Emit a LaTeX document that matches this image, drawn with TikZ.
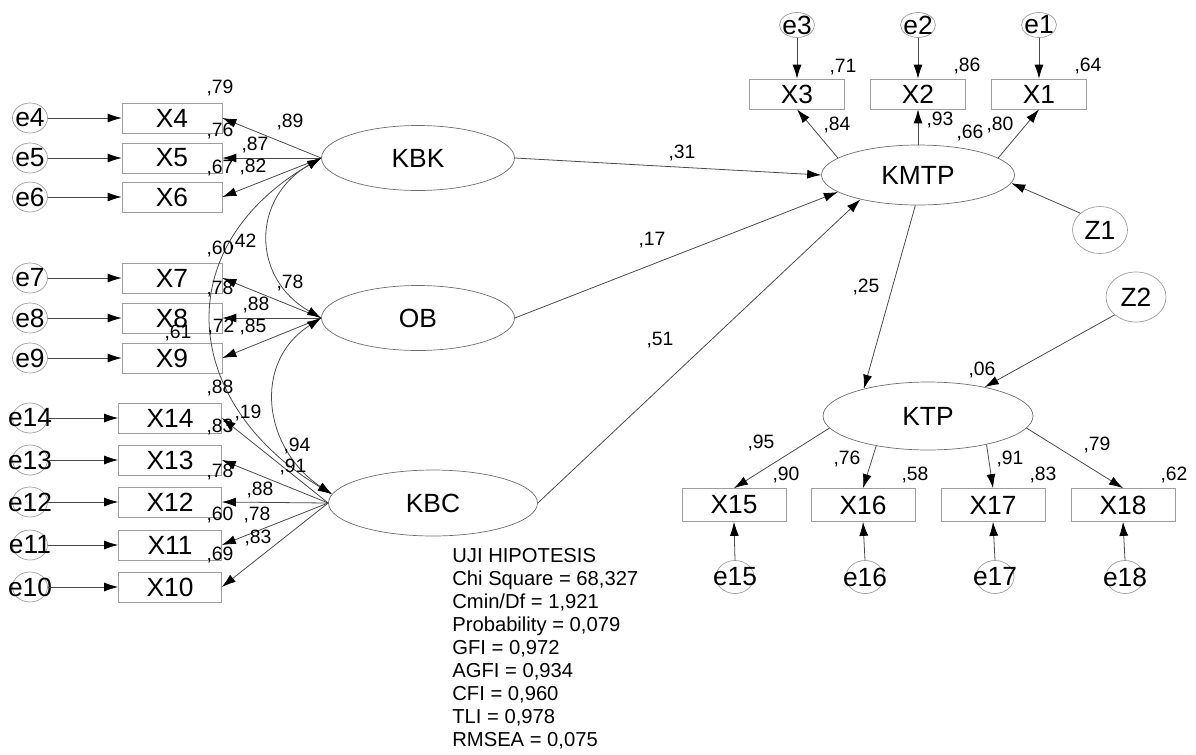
\documentclass[tikz,border=0pt]{standalone}
\usepackage{fontspec}
\setmainfont{Liberation Sans}
\usetikzlibrary{arrows.meta,shapes.geometric}
\definecolor{LineGray}{HTML}{4A4A4A}
\definecolor{BoxGray}{HTML}{9E9E9E}

\begin{document}
\begin{tikzpicture}[
  x=0.02cm,y=-0.02cm,
  obs/.style={draw=BoxGray,minimum width=2cm,minimum height=0.6cm,inner sep=0pt,font=\fontsize{15}{17}\selectfont},
  lat/.style={ellipse,draw=LineGray!80,minimum width=3.86cm,minimum height=1.3cm,inner sep=0pt,font=\fontsize{15}{17}\selectfont},
  err/.style={ellipse,draw=BoxGray,minimum width=0.7cm,minimum height=0.6cm,inner sep=0pt},
  errlab/.style={font=\fontsize{15}{17}\selectfont,inner sep=0pt},
  est/.style={font=\fontsize{11}{13}\selectfont,inner sep=0pt},
  arr/.style={-{Latex[length=2.8mm,width=1.8mm,black]},draw=LineGray,line width=0.45pt},
  cov/.style={{Latex[length=2.8mm,width=1.8mm,black]}-{Latex[length=2.8mm,width=1.8mm,black]},draw=LineGray,line width=0.45pt}
]
\useasboundingbox (0,0) rectangle (1196,754);

% latent variables
\node[lat] (kbk) at (418,158) {KBK};
\node[lat] (ob) at (418,318) {OB};
\node[lat,minimum width=4.18cm,minimum height=1.32cm] (kbc) at (433,503) {KBC};
\node[lat,minimum height=1.2cm] (kmtp) at (918,175) {KMTP};
\node[lat,minimum width=4.2cm,minimum height=1.36cm] (ktp) at (928,416) {KTP};
\node[err,minimum width=1.1cm,minimum height=0.94cm,font=\fontsize{15}{17}\selectfont] (z1) at (1100,230) {Z1};
\node[err,minimum width=1.2cm,minimum height=1cm,font=\fontsize{15}{17}\selectfont] (z2) at (1136,297) {Z2};

% indicators, left
\node[obs] (x4) at (172,118) {X4};
\node[obs] (x5) at (172,158) {X5};
\node[obs] (x6) at (172,197) {X6};
\node[obs] (x7) at (172,278) {X7};
\node[obs] (x8) at (172,318) {X8};
\node[obs] (x9) at (172,358) {X9};
\node[obs,minimum width=2.06cm] (x14) at (170,418) {X14};
\node[obs,minimum width=2.06cm] (x13) at (170,460) {X13};
\node[obs,minimum width=2.06cm] (x12) at (170,502) {X12};
\node[obs,minimum width=2.06cm] (x11) at (170,545) {X11};
\node[obs,minimum width=2.06cm] (x10) at (170,587) {X10};
\node[err,label={[errlab]center:e4}] (e4) at (30,118) {};
\node[err,label={[errlab]center:e5}] (e5) at (30,158) {};
\node[err,label={[errlab]center:e6}] (e6) at (30,197) {};
\node[err,label={[errlab]center:e7}] (e7) at (30,278) {};
\node[err,label={[errlab]center:e8}] (e8) at (30,318) {};
\node[err,label={[errlab]center:e9}] (e9) at (30,358) {};
\node[err,label={[errlab]center:e14}] (e14) at (30,418) {};
\node[err,label={[errlab]center:e13}] (e13) at (30,460) {};
\node[err,label={[errlab]center:e12}] (e12) at (30,502) {};
\node[err,label={[errlab]center:e11}] (e11) at (30,545) {};
\node[err,label={[errlab]center:e10}] (e10) at (30,587) {};

% indicators, top and bottom right
\node[obs,minimum width=1.9cm] (x3) at (797,94) {X3};
\node[obs,minimum width=1.9cm] (x2) at (918,94) {X2};
\node[obs,minimum width=1.9cm] (x1) at (1039,94) {X1};
\node[err,minimum height=0.5cm,label={[errlab]center:e3}] (e3) at (797,25) {};
\node[err,minimum height=0.5cm,label={[errlab]center:e2}] (e2) at (918,25) {};
\node[err,minimum height=0.5cm,label={[errlab]center:e1}] (e1) at (1039,25) {};
\node[obs,minimum width=2.08cm,minimum height=0.66cm] (x15) at (734,505) {X15};
\node[obs,minimum width=2.08cm,minimum height=0.66cm] (x16) at (863,505) {X16};
\node[obs,minimum width=2.08cm,minimum height=0.66cm] (x17) at (993,505) {X17};
\node[obs,minimum width=2.08cm,minimum height=0.66cm] (x18) at (1123,505) {X18};
\node[err,minimum width=0.76cm,minimum height=0.66cm,label={[errlab]center:e15}] (e15) at (735,577) {};
\node[err,minimum width=0.76cm,minimum height=0.66cm,label={[errlab]center:e16}] (e16) at (865,577) {};
\node[err,minimum width=0.76cm,minimum height=0.66cm,label={[errlab]center:e17}] (e17) at (995,577) {};
\node[err,minimum width=0.76cm,minimum height=0.66cm,label={[errlab]center:e18}] (e18) at (1125,577) {};

% error terms
\draw[arr] (e4.east)--(x4.west);
\draw[arr] (e5.east)--(x5.west);
\draw[arr] (e6.east)--(x6.west);
\draw[arr] (e7.east)--(x7.west);
\draw[arr] (e8.east)--(x8.west);
\draw[arr] (e9.east)--(x9.west);
\draw[arr] (e14.east)--(x14.west);
\draw[arr] (e13.east)--(x13.west);
\draw[arr] (e12.east)--(x12.west);
\draw[arr] (e11.east)--(x11.west);
\draw[arr] (e10.east)--(x10.west);
\draw[arr] (e3.south)--(x3.north);
\draw[arr] (e2.south)--(x2.north);
\draw[arr] (e1.south)--(x1.north);
\draw[arr] (e15.north)--(x15.south);
\draw[arr] (e16.north)--(x16.south);
\draw[arr] (e17.north)--(x17.south);
\draw[arr] (e18.north)--(x18.south);

% loadings
\draw[arr] (kbk.west)--(x4.east);
\draw[arr] (kbk.west)--(x5.east);
\draw[arr] (kbk.west)--(x6.east);
\draw[arr] (ob.west)--(x7.east);
\draw[arr] (ob.west)--(x8.east);
\draw[arr] (ob.west)--(x9.east);
\draw[arr] (kbc.west)--(x14.east);
\draw[arr] (kbc.west)--(x13.east);
\draw[arr] (kbc.west)--(x12.east);
\draw[arr] (kbc.west)--(x11.east);
\draw[arr] (kbc.west)--(x10.east);
\draw[arr] (kmtp.168)--(x3.south);
\draw[arr] (kmtp.north)--(x2.south);
\draw[arr] (kmtp.12)--(x1.south);
\draw[arr] (ktp.187)--(x15.north);
\draw[arr] (ktp.210)--(x16.north);
\draw[arr] (ktp.-26)--(x17.north);
\draw[arr] (ktp.-7)--(x18.north);

% covariances
\draw[cov] (kbk.west) .. controls +(-70,40) and +(-70,-40) .. (ob.west);
\draw[cov] (kbk.west) .. controls +(-155,90) and +(-150,-90) .. (kbc.175);
\draw[cov] (ob.west) .. controls +(-70,45) and +(-68,-45) .. (kbc.175);

% structural paths
\draw[arr] (kbk.east)--(kmtp.west);
\draw[arr] (ob.east)--(kmtp.192);
\draw[arr] (kbc.east)--(kmtp.203);
\draw[arr] (z1.north west)--(kmtp.-5);
\draw[arr] (kmtp.265)--(ktp.157);
\draw[arr] (z2.south west)--(ktp.27);

% estimates
\node[est] (v1) at (220,88) {,79};
\node[est] (v2) at (290,122) {,89};
\node[est] (v3) at (220,131) {,76};
\node[est] (v4) at (255,145) {,87};
\node[est] (v5) at (220,168) {,67};
\node[est] (v6) at (253,167) {,82};
\node[est] (v7) at (220,249) {,60};
\node[est] (v8) at (243,242) {,42};
\node[est] (v9) at (290,283) {,78};
\node[est] (v10) at (220,289) {,78};
\node[est] (v11) at (256,305) {,88};
\node[est] (v12) at (221,327) {,72};
\node[est] (v13) at (253,327) {,85};
\node[est] (v14) at (178,333) {,61};
\node[est] (v15) at (220,388) {,88};
\node[est] (v16) at (248,413) {,19};
\node[est] (v17) at (220,427) {,83};
\node[est] (v18) at (297,446) {,94};
\node[est] (v19) at (293,467) {,91};
\node[est] (v20) at (220,472) {,78};
\node[est] (v21) at (260,490) {,88};
\node[est] (v22) at (220,515) {,60};
\node[est] (v23) at (257,515) {,78};
\node[est] (v24) at (258,538) {,83};
\node[est] (v25) at (220,555) {,69};
\node[est] (v26) at (682,153) {,31};
\node[est] (v27) at (652,240) {,17};
\node[est] (v28) at (660,340) {,51};
\node[est] (v29) at (843,67) {,71};
\node[est] (v30) at (967,66) {,86};
\node[est] (v31) at (1088,66) {,64};
\node[est] (v32) at (837,125) {,84};
\node[est] (v33) at (940,120) {,93};
\node[est] (v34) at (970,133) {,66};
\node[est] (v35) at (1000,125) {,80};
\node[est] (v36) at (866,287) {,25};
\node[est] (v37) at (982,370) {,06};
\node[est] (v38) at (761,443) {,95};
\node[est] (v39) at (786,475) {,90};
\node[est] (v40) at (847,459) {,76};
\node[est] (v41) at (915,475) {,58};
\node[est] (v42) at (1010,459) {,91};
\node[est] (v43) at (1043,475) {,83};
\node[est] (v44) at (1097,445) {,79};
\node[est] (v45) at (1174,475) {,62};

% fit indices
\node[anchor=north west,align=left,inner sep=0pt,font=\fontsize{11.5}{13.1}\selectfont] (fit) at (452,548)
  {UJI HIPOTESIS\\Chi Square = 68,327\\Cmin/Df = 1,921\\Probability = 0,079\\GFI = 0,972\\AGFI = 0,934\\CFI = 0,960\\TLI = 0,978\\RMSEA = 0,075};
\end{tikzpicture}
\end{document}
